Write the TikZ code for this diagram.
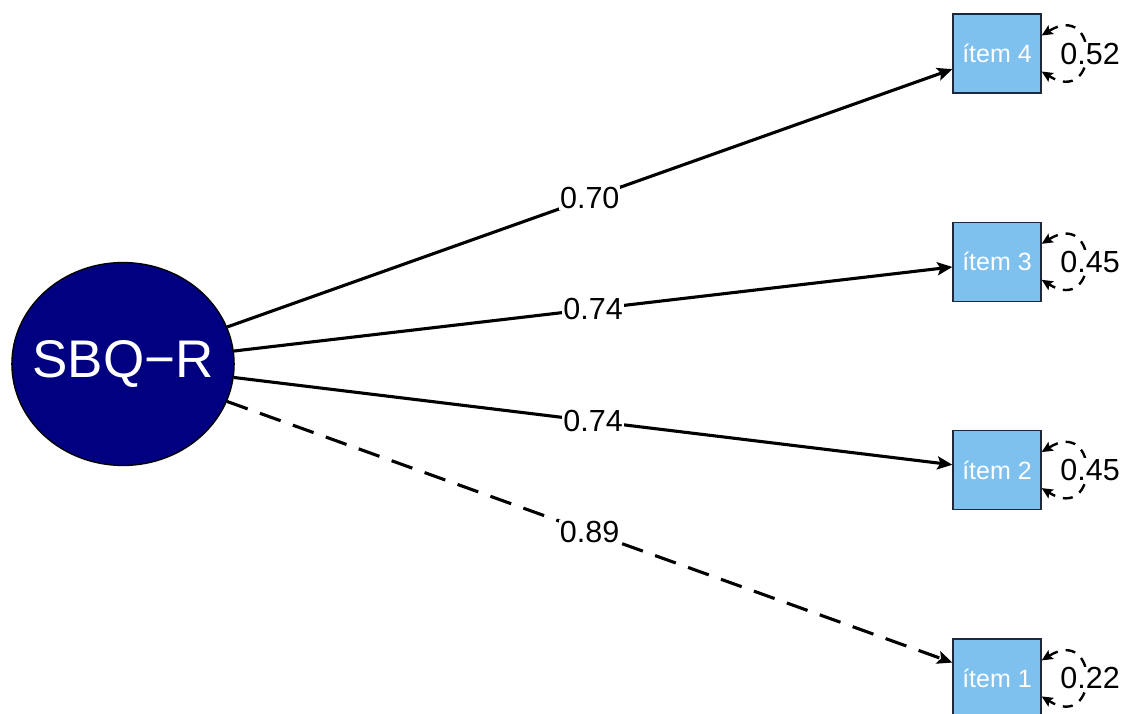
\documentclass[tikz,border=0pt]{standalone}
\usepackage{fontspec}
\setmainfont{Liberation Sans}
\usetikzlibrary{positioning,shapes.geometric,arrows.meta}
\definecolor{latentnavy}{RGB}{0,0,128}
\definecolor{itemblue}{RGB}{126,192,238}
\definecolor{itemborder}{RGB}{30,40,60}

\begin{document}
\begin{tikzpicture}[
    x=1pt, y=-1pt,
    node distance=128pt,
    latent/.style={ellipse, draw=black, fill=latentnavy, line width=1.3pt,
                   minimum width=221pt, minimum height=203pt, inner ysep=0pt, inner xsep=-12pt,
                   text=white, font=\fontsize{53}{60}\selectfont},
    itembox/.style={rectangle, draw=itemborder, fill=itemblue, line width=1.3pt,
                    minimum width=88pt, minimum height=79pt, inner sep=0pt,
                    text=white, font=\fontsize{25}{30}\selectfont},
    coef/.style={fill=white, inner sep=1pt, font=\fontsize{30.5}{36}\selectfont},
    arrow/.style={->, >={Stealth[length=15pt, width=13pt, inset=3pt]}, line width=3.1pt},
    resid/.style={<->, >={Stealth[length=11pt, width=10pt, inset=2pt]}, dash pattern=on 10pt off 8pt,
                  line width=2.4pt}
]
\useasboundingbox (0,0) rectangle (1124,713);

% latent factor
\node[latent] (sbq) at (123,364) {SBQ\textminus R};

% items
\node[itembox] (i4) at (997,53.5) {ítem 4};
\node[itembox, below=of i4] (i3) {ítem 3};
\node[itembox, below=of i3] (i2) {ítem 2};
\node[itembox, below=of i2] (i1) {ítem 1};

% loadings
\draw[arrow] (sbq) -- node[coef] {0.70} (i4);
\draw[arrow] (sbq) -- node[coef] {0.74} (i3);
\draw[arrow] (sbq) -- node[coef] {0.74} (i2);
\draw[arrow, dash pattern=on 22pt off 13pt] (sbq) -- node[coef] {0.89} (i1);

% residual variances
\draw[resid] ([yshift=18pt]i4.east) .. controls +(58,-36) and +(58,36) .. node[coef, xshift=5pt] {0.52} ([yshift=-18pt]i4.east);
\draw[resid] ([yshift=18pt]i3.east) .. controls +(58,-36) and +(58,36) .. node[coef, xshift=5pt] {0.45} ([yshift=-18pt]i3.east);
\draw[resid] ([yshift=18pt]i2.east) .. controls +(58,-36) and +(58,36) .. node[coef, xshift=5pt] {0.45} ([yshift=-18pt]i2.east);
\draw[resid] ([yshift=18pt]i1.east) .. controls +(58,-36) and +(58,36) .. node[coef, xshift=5pt] {0.22} ([yshift=-18pt]i1.east);

\end{tikzpicture}
\end{document}
